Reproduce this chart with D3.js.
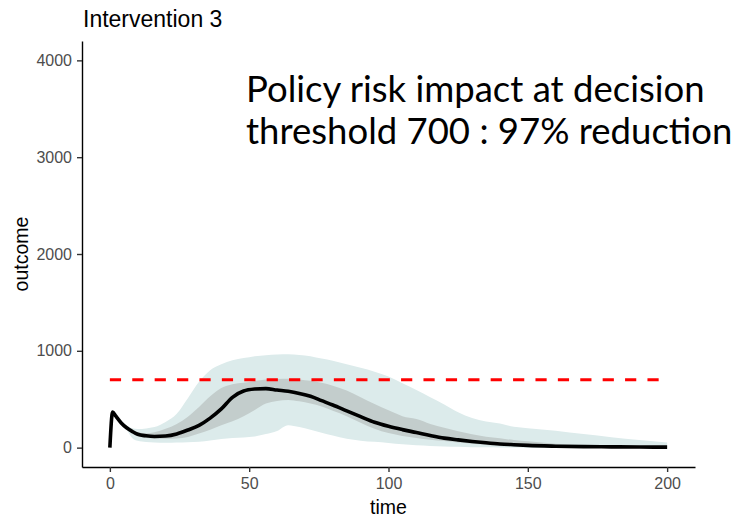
<!DOCTYPE html>
<html>
<head>
<meta charset="utf-8">
<script src="https://cdn.jsdelivr.net/npm/d3@7"></script>
<style>
  html, body { margin: 0; padding: 0; background: #ffffff; }
  svg { display: block; }
</style>
</head>
<body>
<div id="chart"></div>
<script>
// Simulated outcome trajectory for Intervention 3: median with 50% and 95% bands
const time   = [0, 1, 2, 4, 6, 8, 10, 13, 16, 20, 24, 28, 32, 36, 40, 44, 48, 52, 56, 60, 64, 68, 72, 76, 80, 85, 90, 95, 100, 105, 110, 115, 120, 125, 130, 135, 140, 145, 150, 160, 170, 180, 190, 200];
const median = [0, 368, 330, 258, 205, 168, 138, 122, 115, 120, 142, 182, 230, 305, 400, 520, 585, 605, 610, 595, 582, 560, 530, 485, 440, 380, 320, 262, 220, 186, 156, 125, 98, 80, 64, 50, 38, 30, 23, 15, 10, 8, 6, 5];
const lo50   = [0, 362, 325, 250, 195, 150, 118, 100, 95, 92, 95, 110, 145, 185, 230, 272, 325, 390, 455, 482, 492, 478, 455, 425, 380, 325, 258, 195, 150, 120, 100, 82, 68, 52, 40, 28, 18, 13, 9, 5, 3, 2, 1, 1];
const hi50   = [0, 370, 335, 266, 215, 180, 158, 148, 160, 195, 245, 320, 420, 530, 615, 655, 670, 688, 705, 710, 712, 705, 690, 670, 640, 590, 520, 450, 385, 325, 295, 245, 205, 168, 138, 112, 96, 78, 65, 40, 24, 15, 11, 8];
const lo95   = [0, 360, 320, 248, 185, 100, 70, 58, 52, 50, 52, 55, 60, 75, 90, 100, 105, 115, 140, 172, 232, 212, 185, 155, 125, 92, 72, 60, 48, 35, 25, 18, 12, 8, 5, 3, 2, 1, 0, 0, 0, 0, 0, 0];
const hi95   = [0, 372, 340, 275, 232, 200, 192, 198, 212, 265, 350, 510, 680, 800, 860, 903, 925, 945, 955, 962, 964, 958, 945, 920, 898, 862, 825, 785, 735, 665, 595, 520, 445, 365, 305, 270, 250, 215, 200, 175, 140, 108, 80, 52];
const threshold = 700;
const yTicks = [0, 1000, 2000, 3000, 4000];
const xTicks = [0, 50, 100, 150, 200];
const titleText = "Intervention 3";
const noteLines = ["Policy risk impact at decision", "threshold 700 : 97% reduction"];

const W = 751, H = 523;
const panel = { left: 82, right: 695, top: 41, bottom: 467 };

const svg = d3.select("#chart").append("svg")
  .attr("width", W).attr("height", H);

const x = d3.scaleLinear().domain([-10, 210]).range([panel.left, panel.right]);
const y = d3.scaleLinear().domain([-200, 4200]).range([panel.bottom, panel.top]);

const rows = time.map((t, i) => ({ t, m: median[i], l50: lo50[i], h50: hi50[i], l95: lo95[i], h95: hi95[i] }));

const curve = d3.curveMonotoneX;

// 95% band
svg.append("path")
  .datum(rows)
  .attr("fill", "#dcebeb")
  .attr("d", d3.area().curve(curve).x(d => x(d.t)).y0(d => y(d.l95)).y1(d => y(d.h95)));

// 50% band
svg.append("path")
  .datum(rows)
  .attr("fill", "#c3cdcc")
  .attr("d", d3.area().curve(curve).x(d => x(d.t)).y0(d => y(d.l50)).y1(d => y(d.h50)));

// decision threshold
svg.append("line")
  .attr("x1", x(0)).attr("x2", x(200))
  .attr("y1", y(threshold)).attr("y2", y(threshold))
  .attr("stroke", "#ff0000")
  .attr("stroke-width", 3)
  .attr("stroke-dasharray", "11.2,11.2");

// median trajectory
svg.append("path")
  .datum(rows)
  .attr("fill", "none")
  .attr("stroke", "#000000")
  .attr("stroke-width", 3.6)
  .attr("stroke-linejoin", "round")
  .attr("d", d3.line().curve(curve).x(d => x(d.t)).y(d => y(d.m)));

// axes
const axisFont = "'Liberation Sans', Arial, sans-serif";

const gx = svg.append("g")
  .attr("transform", `translate(0,${panel.bottom})`)
  .call(d3.axisBottom(x).tickValues(xTicks).tickFormat(d3.format("d"))
    .tickSize(5).tickSizeOuter(0).tickPadding(6));

const gy = svg.append("g")
  .attr("transform", `translate(${panel.left},0)`)
  .call(d3.axisLeft(y).tickValues(yTicks).tickFormat(d3.format("d"))
    .tickSize(5).tickSizeOuter(0).tickPadding(5));

[gx, gy].forEach(g => {
  g.select(".domain").attr("stroke", "#000000").attr("stroke-width", 1.4);
  g.selectAll(".tick line").attr("stroke", "#333333").attr("stroke-width", 1.4);
  g.selectAll(".tick text")
    .attr("fill", "#4d4d4d")
    .style("font-family", axisFont)
    .style("font-size", "16px");
});

// axis titles
svg.append("text")
  .attr("x", (panel.left + panel.right) / 2)
  .attr("y", 513.5)
  .attr("text-anchor", "middle")
  .style("font-family", axisFont)
  .style("font-size", "19.5px")
  .attr("fill", "#000000")
  .text("time");

svg.append("text")
  .attr("transform", `translate(28,${(panel.top + panel.bottom) / 2}) rotate(-90)`)
  .attr("text-anchor", "middle")
  .style("font-family", axisFont)
  .style("font-size", "19.5px")
  .attr("fill", "#000000")
  .text("outcome");

// plot title
svg.append("text")
  .attr("x", 83)
  .attr("y", 26.7)
  .style("font-family", axisFont)
  .style("font-size", "23px")
  .attr("fill", "#000000")
  .text(titleText);

// annotation
const note = svg.append("g");
noteLines.forEach((s, i) => {
  note.append("text")
    .attr("x", 246)
    .attr("y", 102 + i * 42)
    .style("font-family", "Lato, 'Open Sans', sans-serif")
    .style("font-size", "36.5px")
    .attr("fill", "#000000")
    .text(s);
});
</script>
</body>
</html>
